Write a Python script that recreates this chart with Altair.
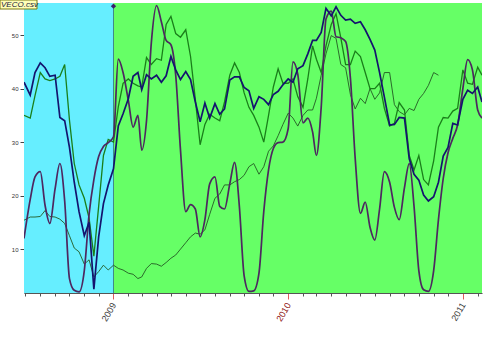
import altair as alt
import pandas as pd

# ---- x grid (1st, 11th, 21st of each month) ----
dates = ["2008-06-28", "2008-07-11", "2008-07-21"]
for y, m in [(2008, mm) for mm in range(8, 13)] + [(2009, mm) for mm in range(1, 13)] + \
            [(2010, mm) for mm in range(1, 13)] + [(2011, 1)]:
    for d in (1, 11, 21):
        dates.append(f"{y}-{m:02d}-{d:02d}")
dates += ["2011-02-01", "2011-02-10"]

navy = [41.2, 38.8, 43.0,
        44.8, 43.9, 42.3, 42.5, 34.6, 34.0, 29.0, 22.5, 17.0, 12.5, 15.0, 2.5, 12.3, 18.5, 22.0,
        25.0, 33.0, 35.3, 38.1, 42.3, 43.0, 39.8, 42.6, 41.8, 42.5, 41.2, 42.4,
        46.0, 43.5, 41.7, 43.2, 41.7, 37.5, 33.8, 37.3, 34.5, 37.2, 35.2, 36.2,
        41.6, 42.2, 42.2, 40.2, 39.6, 36.3, 38.5, 38.0, 37.0, 38.9, 39.5, 40.7,
        41.8, 41.2, 43.7, 44.3, 46.5, 49.0, 49.0, 50.5, 55.0, 53.6, 55.3, 53.7,
        52.8, 53.0, 52.2, 52.5, 51.0, 49.2, 47.2, 43.0, 38.4, 33.2, 33.3, 34.6,
        34.5, 26.9, 24.0, 22.9, 20.1, 19.0, 19.8, 22.5, 27.4, 29.0, 33.5, 33.2,
        38.0, 39.7, 39.1, 40.3, 37.5]

green = [35.0, 34.5, 38.7,
         43.0, 41.8, 41.5, 41.8, 42.3, 44.5, 34.1, 26.0, 22.0, 19.5, 15.8, 8.7, 18.0, 27.5, 30.5,
         30.0, 36.6, 41.0, 41.8, 41.0, 40.5, 40.3, 45.8, 44.5, 45.6, 45.3, 52.0,
         53.5, 50.3, 49.6, 51.0, 46.0, 38.0, 29.5, 33.3, 35.2, 34.5, 34.0, 37.5,
         42.5, 44.8, 43.0, 39.2, 36.5, 35.0, 32.8, 30.0, 35.0, 40.3, 43.7, 41.0,
         41.0, 41.8, 38.5, 36.5, 41.8, 48.0, 45.5, 43.0, 48.0, 52.0, 54.0, 49.5,
         44.5, 44.5, 47.0, 46.0, 43.0, 40.0, 40.0, 41.0, 36.3, 33.0, 33.5, 37.4,
         36.0, 27.5, 24.8, 27.5, 23.0, 22.0, 26.5, 32.8, 34.6, 34.5, 35.8, 36.3,
         43.5, 41.0, 40.8, 44.0, 42.5]

thin = [15.4, 16.0, 16.0,
        16.1, 17.2, 16.1, 16.0, 15.6, 14.8, 12.5, 10.2, 9.5, 7.2, 8.0, 4.8, 5.8, 7.0, 6.1,
        7.0, 6.4, 6.1, 5.5, 5.3, 4.5, 4.8, 6.4, 7.3, 7.2, 6.8, 7.5,
        8.3, 8.9, 10.0, 11.2, 12.3, 13.0, 12.8, 13.6, 16.5, 19.5, 20.3, 22.0,
        22.0, 22.6, 23.0, 23.8, 25.4, 26.0, 24.0, 25.4, 28.3, 29.3, 31.2, 33.3,
        35.4, 34.5, 33.0, 35.0, 36.0, 36.0, 38.2, 42.5, 46.5, 49.9, 49.4, 44.5,
        43.9, 38.9, 36.2, 38.2, 37.2, 40.0, 38.0, 39.2, 43.0, 43.0, 37.0, 35.7,
        35.1, 36.3, 35.9, 38.0, 39.1, 40.6, 43.0, 42.5, None, None, None, None,
        None, None, None, None, None]

purple = [12.0, 19.3, 23.5,
          24.5, 18.2, 14.8, 21.3, 26.0, 19.0, 4.5, 2.3, 2.0, 6.0, 16.5, 23.0, 27.3, 29.2, 29.9,
          31.0, 45.5, 43.0, 37.8, 32.8, 35.0, 28.5, 34.0, 48.5, 55.5, 52.5, 49.0,
          48.2, 42.5, 28.5, 17.0, 18.3, 17.5, 12.3, 15.5, 22.2, 23.5, 18.0, 17.5,
          22.2, 26.2, 18.0, 5.0, 2.1, 2.2, 5.5, 17.0, 24.8, 28.8, 29.9, 30.0,
          32.5, 45.0, 42.7, 33.6, 34.5, 31.9, 27.5, 36.5, 53.0, 54.5, 49.7, 49.5,
          48.8, 42.0, 27.0, 16.7, 18.8, 14.1, 11.7, 17.5, 24.5, 22.5, 17.8, 15.5,
          21.5, 26.0, 18.0, 6.0, 2.4, 2.1, 6.0, 15.5, 23.2, 28.0, 30.7, 33.2,
          40.0, 45.4, 43.5, 36.0, 34.5]

band_start = ["2008-06-28", "2009-01-01"]
band_end = ["2009-01-01", "2011-02-10"]
band_name = ["before", "after"]

marker_date = ["2009-01-01"]
marker_value = [55.4]

y_ticks = [10, 20, 30, 40, 50]

# ---- tables ----
rows = []
for name, vals in [("thin", thin), ("green", green), ("purple", purple), ("navy", navy)]:
    for d, v in zip(dates, vals):
        if v is not None:
            rows.append({"date": d, "value": v, "series": name})
df = pd.DataFrame(rows)
bands = pd.DataFrame({"start": band_start, "end": band_end, "band": band_name})
marker = pd.DataFrame({"date": marker_date, "value": marker_value})
one = pd.DataFrame({"k": [0]})

month_ticks = []
for y in (2008, 2009, 2010, 2011):
    for m in range(1, 13):
        if (y == 2008 and m < 7) or (y == 2011 and m > 2):
            continue
        month_ticks.append(alt.DateTime(year=y, month=m, date=1, utc=True))

FONT = "Liberation Sans"
is_jan = "utcmonth(datum.value)==0"

x_axis = alt.Axis(
    values=month_ticks, title=None, grid=False,
    labelExpr=f"{is_jan} ? utcFormat(datum.value,'%Y') : ''",
    labelAngle=300, labelAlign="right", labelBaseline="middle",
    labelFontSize=9, labelFont=FONT, labelOverlap=False, labelPadding=4,
    labelColor={"condition": {"test": "utcyear(datum.value)==2010", "value": "#8e1414"}, "value": "#3a3a3a"},
    tickColor={"condition": {"test": is_jan, "value": "#e05a5a"}, "value": "#555555"},
    tickSize={"condition": {"test": is_jan, "value": 6}, "value": 3},
    domainColor="#555555", domainWidth=1,
)
x_scale = alt.Scale(type="utc", domain=[alt.DateTime(year=2008, month=6, date=28, utc=True),
                                        alt.DateTime(year=2011, month=2, date=10, utc=True)])
y_axis = alt.Axis(values=y_ticks, title=None, grid=False, labelFontSize=6, labelFont=FONT,
                  labelColor="#333333", tickSize=4, tickColor="#444444", labelPadding=2,
                  domainColor="#6a7a8a")
y_scale = alt.Scale(domain=[1.8, 56], nice=False, zero=False)


def X(field):
    return alt.X(field, type="temporal", scale=x_scale, axis=x_axis)


def Y(field):
    return alt.Y(field, type="quantitative", scale=y_scale, axis=y_axis)


bg = alt.Chart(bands).mark_rect().encode(
    x=X("start"), x2="end",
    y=alt.value(0), y2=alt.value(290),
    color=alt.Color("band:N", scale=alt.Scale(domain=band_name, range=["#66EEFF", "#66FF66"]), legend=None),
)

divider = alt.Chart(marker).mark_rule(color="#3f8a8a", strokeWidth=1).encode(
    x=X("date"), y=alt.value(3), y2=alt.value(290))

styles = {
    "thin": ("#245a24", 0.9),
    "green": ("#1a7f1a", 1.3),
    "purple": ("#4e2760", 1.7),
    "navy": ("#14146e", 1.7),
}
lines = []
for name in ["thin", "green", "purple", "navy"]:
    col, w = styles[name]
    interp = "monotone" if name == "purple" else "linear"
    lines.append(
        alt.Chart(df).transform_filter(alt.datum.series == name)
        .mark_line(color=col, strokeWidth=w, interpolate=interp, clip=True)
        .encode(x=X("date"), y=Y("value"))
    )

dia = alt.Chart(marker).mark_point(shape="diamond", filled=True, size=28, color="#3a2068", opacity=1).encode(
    x=X("date"), y=Y("value"))

box = alt.Chart(one).mark_rect(fill="#ffffb8", stroke="#7a7a10", strokeWidth=1).encode(
    x=alt.value(-24), x2=alt.value(13), y=alt.value(-3), y2=alt.value(6))
label = alt.Chart(one).mark_text(text="VECO.csv", align="left", baseline="middle", fontStyle="italic",
                                 fontSize=8, font=FONT, color="#1a1a3a").encode(
    x=alt.value(-23), y=alt.value(1.5))

chart = alt.layer(bg, divider, *lines, dia, box, label).properties(
    width=458, height=290,
    autosize=alt.AutoSizeParams(type="none"),
    padding={"left": 24, "top": 3, "right": 7, "bottom": 63},
).configure_view(strokeWidth=0)

chart.save("out.html", embed_options={"renderer": "svg", "actions": False})
